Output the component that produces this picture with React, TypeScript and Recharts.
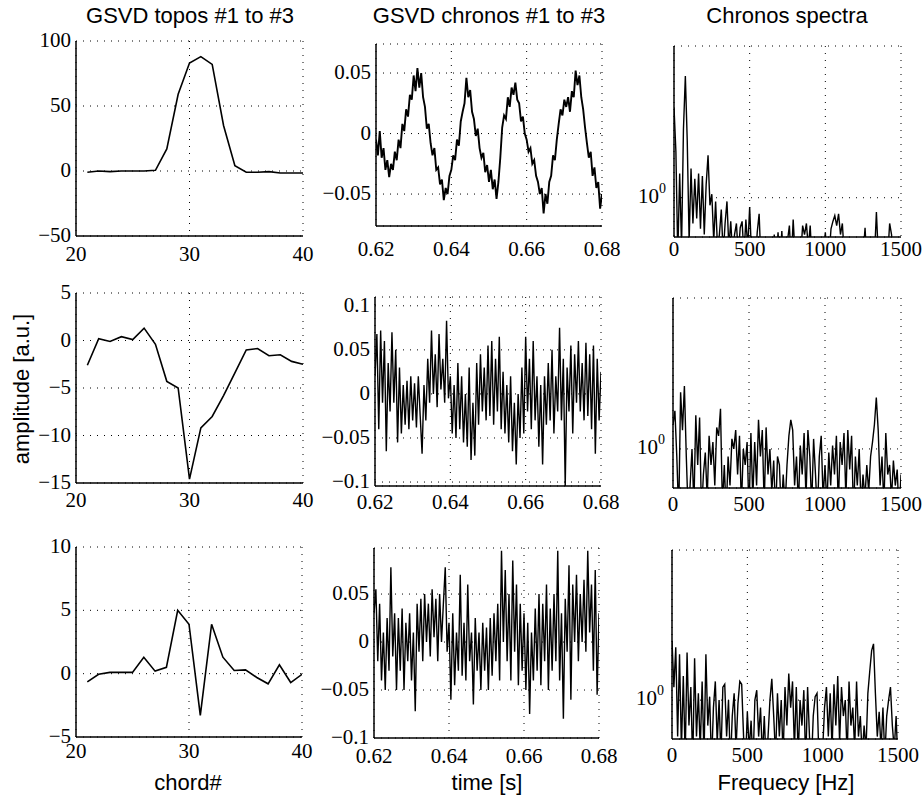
import React from "react";
import { LineChart, Line, XAxis, YAxis, CartesianGrid } from "recharts";

// chord numbers for the topos panels
const chords = [21, 22, 23, 24, 25, 26, 27, 28, 29, 30, 31, 32, 33, 34, 35, 36, 37, 38, 39, 40];

const topos1 = [-1, 0, -0.5, 0, 0, 0, 0.5, 17, 59, 83, 88, 82, 35, 4, -1, -1, -0.5, -1.5, -1.5, -1.5];
const topos2 = [-2.6, 0.2, -0.1, 0.4, 0.1, 1.3, -0.4, -4.3, -5.0, -14.6, -9.2, -8.0, -5.8, -3.4, -1.0, -0.85, -1.6, -1.5, -2.2, -2.5];
const topos3 = [-0.65, -0.05, 0.1, 0.1, 0.1, 1.3, 0.2, 0.5, 5.0, 3.9, -3.3, 3.9, 1.3, 0.25, 0.3, -0.3, -0.8, 0.7, -0.7, -0.05];

// chronos, sampled evenly from 0.62 s to 0.68 s
const T_START = 0.62;
const T_END = 0.68;

const chronos1 = [
  -0.005, -0.018, 0.002, -0.02, -0.012, -0.03, -0.022, -0.036, -0.025, -0.03,
  -0.015, -0.022, -0.005, -0.012, 0.008, 0.002, 0.02, 0.014, 0.032, 0.028,
  0.048, 0.035, 0.054, 0.038, 0.05, 0.03, 0.022, 0.004, 0.008, -0.008,
  -0.018, -0.012, -0.03, -0.028, -0.042, -0.038, -0.055, -0.045, -0.05, -0.035,
  -0.03, -0.018, -0.022, -0.005, -0.01, 0.01, 0.018, 0.025, 0.046, 0.03,
  0.036, 0.018, 0.012, -0.002, 0.004, -0.012, -0.02, -0.016, -0.032, -0.026,
  -0.04, -0.03, -0.046, -0.038, -0.054, -0.04, -0.02, 0.005, 0.015, 0.012,
  0.03, 0.022, 0.038, 0.032, 0.042, 0.028, 0.025, 0.01, 0.014, 0.0,
  -0.005, -0.015, -0.012, -0.025, -0.022, -0.035, -0.04, -0.05, -0.045, -0.066,
  -0.05, -0.058, -0.04, -0.035, -0.018, -0.022, -0.005, 0.008, 0.02, 0.015,
  0.028, 0.022, 0.03, 0.018, 0.035, 0.03, 0.052, 0.04, 0.048, 0.03,
  0.02, 0.005, -0.008, -0.02, -0.015, -0.035, -0.028, -0.045, -0.04, -0.062,
  -0.05,
];

const chronos2 = [
  0.02, 0.068, -0.04, 0.072, -0.01, 0.06, -0.065, 0.035, -0.02, 0.07,
  -0.01, 0.05, -0.055, 0.03, -0.045, 0.01, -0.035, 0.015, -0.04, 0.02,
  -0.03, 0.012, -0.038, 0.02, -0.025, -0.068, 0.01, -0.03, 0.04, -0.01,
  0.072, 0.0, 0.045, -0.015, 0.068, 0.005, 0.04, -0.01, 0.083, -0.005,
  0.02, -0.045, 0.01, -0.05, 0.035, -0.04, 0.02, -0.055, 0.0, -0.06,
  0.03, -0.075, -0.01, -0.07, 0.035, -0.035, 0.045, -0.02, 0.03, -0.03,
  0.055, -0.025, 0.06, -0.035, 0.04, -0.02, 0.065, -0.04, 0.025, -0.045,
  0.01, -0.055, 0.02, -0.065, -0.01, -0.08, 0.0, -0.05, 0.03, -0.045,
  0.065, -0.02, 0.04, -0.04, 0.06, -0.03, 0.02, -0.06, 0.01, -0.08,
  0.02, -0.035, 0.035, -0.03, 0.05, -0.045, 0.02, -0.02, 0.075, -0.03,
  0.04, -0.105, 0.03, -0.02, 0.055, -0.045, 0.045, -0.01, 0.06, -0.02,
  0.035, -0.03, 0.058, -0.025, 0.045, -0.04, 0.055, -0.068, 0.04, -0.03,
  0.025,
];

const chronos3 = [
  0.03, 0.055, -0.02, 0.04, -0.04, 0.01, -0.05, 0.025, -0.03, 0.078,
  -0.015, 0.03, -0.05, 0.025, -0.03, 0.035, -0.05, 0.02, -0.02, 0.03,
  -0.04, 0.01, -0.072, 0.04, -0.01, 0.045, -0.02, 0.05, 0.0, 0.04,
  -0.015, 0.055, 0.005, 0.045, -0.02, 0.05, 0.0, 0.04, 0.078, -0.01,
  0.02, -0.06, 0.03, -0.045, 0.01, -0.03, 0.07, -0.035, 0.02, -0.04,
  0.06, -0.02, 0.01, -0.065, 0.025, -0.03, 0.01, -0.05, 0.02, -0.03,
  0.015, -0.05, 0.025, -0.035, 0.03, -0.02, 0.04, -0.04, 0.095, 0.0,
  0.075, -0.02, 0.05, -0.04, 0.085, -0.01, 0.06, -0.045, 0.04, -0.03,
  0.03, -0.05, 0.02, -0.075, 0.01, -0.04, 0.035, -0.03, 0.05, -0.045,
  0.04, -0.02, 0.06, -0.05, 0.035, -0.03, 0.05, -0.02, 0.095, -0.04,
  0.03, -0.08, 0.045, -0.01, 0.08, -0.06, 0.06, 0.0, 0.07, -0.02,
  0.05, 0.0, 0.065, -0.01, 0.095, 0.01, 0.06, -0.03, 0.075, -0.055,
  0.03,
];

// spectra, evenly spaced bins from 0 to 1500 Hz
const F_MAX = 1500;

const spectra1 = [
  3.5, 1.9, 0.45, 1.4, 0.5, 2.6, 5.4, 2.2, 0.55, 1.5,
  0.7, 1.3, 0.75, 1.4, 0.65, 1.35, 0.6, 1.2, 1.8, 0.9,
  1.05, 0.55, 0.95, 0.5, 0.6, 0.85, 0.45, 0.7, 0.95, 0.5,
  0.72, 0.45, 0.6, 0.7, 0.45, 0.66, 0.72, 0.45, 0.74, 0.5,
  0.88, 0.45, 0.55, 0.4, 0.62, 0.8, 0.4, 0.45, 0.4, 0.4,
  0.4, 0.45, 0.4, 0.6, 0.4, 0.62, 0.4, 0.63, 0.4, 0.4,
  0.55, 0.68, 0.4, 0.74, 0.45, 0.4, 0.4, 0.45, 0.68, 0.6,
  0.7, 0.5, 0.68, 0.4, 0.4, 0.4, 0.4, 0.4, 0.4, 0.45,
  0.62, 0.4, 0.45, 0.65, 0.72, 0.78, 0.68, 0.8, 0.6, 0.7,
  0.45, 0.4, 0.4, 0.4, 0.4, 0.58, 0.4, 0.4, 0.4, 0.4,
  0.45, 0.66, 0.4, 0.4, 0.4, 0.4, 0.45, 0.82, 0.45, 0.4,
  0.4, 0.4, 0.4, 0.45, 0.7, 0.6, 0.4, 0.4, 0.4, 0.4,
  0.4,
];

const spectra2 = [
  1.4, 1.7, 0.9, 0.4, 2.2, 1.3, 2.4, 0.9, 0.4, 0.6,
  1.0, 0.45, 1.6, 0.8, 1.55, 0.4, 0.7, 0.95, 0.5, 1.2,
  0.8, 1.1, 0.6, 1.35, 1.2, 1.75, 0.45, 0.8, 0.4, 0.9,
  0.6, 1.15, 1.0, 1.3, 0.7, 1.2, 0.45, 1.0, 0.8, 1.1,
  0.4, 1.25, 0.5, 1.1, 0.6, 1.5, 0.9, 1.3, 0.45, 1.35,
  0.7, 1.0, 0.55, 0.85, 0.4, 0.9, 0.8, 0.4, 0.7, 0.45,
  0.8, 1.2, 1.5, 1.3, 0.6, 0.9, 0.45, 1.05, 0.7, 1.25,
  0.5, 1.3, 0.9, 0.45, 1.15, 0.7, 0.4, 0.9, 1.2, 0.5,
  0.8, 0.45, 0.95, 0.6, 1.05, 0.7, 1.2, 0.45, 1.1, 0.8,
  1.25, 0.5, 1.3, 0.75, 1.2, 0.4, 0.9, 0.6, 1.0, 0.45,
  0.7, 0.5, 0.8, 0.55, 0.9, 1.1, 1.4, 2.05, 1.3, 0.6,
  0.9, 0.45, 1.25, 0.7, 0.8, 0.5, 0.85, 0.6, 0.75, 0.4,
  0.7,
];

const spectra3 = [
  2.3, 1.2, 2.1, 0.6, 1.9, 0.5, 1.4, 0.45, 1.95, 0.7,
  1.2, 0.4, 1.8, 0.6, 1.1, 0.5, 1.3, 0.45, 1.9, 0.7,
  1.05, 0.4, 0.9, 1.3, 0.55, 1.0, 0.45, 1.2, 1.25, 0.6,
  1.0, 0.4, 0.8, 1.1, 0.5, 0.95, 1.3, 1.25, 0.6, 0.4,
  0.85, 0.5, 0.75, 0.4, 1.0, 1.15, 0.6, 0.9, 0.45, 0.8,
  0.4, 0.6, 1.0, 1.35, 0.8, 0.45, 1.1, 0.6, 1.0, 0.45,
  1.2, 0.7, 1.45, 0.9, 1.3, 0.5, 1.2, 0.45, 1.0, 0.7,
  1.15, 0.4, 1.2, 0.6, 0.4, 0.8, 1.05, 1.1, 0.45, 0.4,
  0.5, 0.9, 1.2, 0.6, 1.1, 0.5, 1.25, 0.7, 1.4, 0.55,
  1.2, 0.8, 1.0, 0.45, 1.3, 0.7, 0.9, 0.5, 1.3, 0.6,
  0.8, 0.45, 0.7, 0.5, 1.1, 1.5, 2.0, 2.2, 1.1, 0.6,
  0.85, 0.5, 0.9, 0.45, 0.8, 1.0, 1.2, 0.7, 0.5, 0.8,
  0.4,
];

const serif = "'Liberation Serif', 'Times New Roman', serif";
const sans = "'Liberation Sans', Arial, Helvetica, sans-serif";

const fmt = (v: number) => String(v).replace("-", "\u2212");

// evenly spaced sample axis (time / frequency bins)
const sampleAxis = (n: number, a: number, b: number) =>
  Array.from({ length: n }, (_, i) => a + ((b - a) * i) / (n - 1));

const rows = (xs: number[], ys: number[]) => ys.map((v, i) => ({ x: xs[i], y: v }));

type Box = { x: number; y: number; w: number; h: number };

const ML = 80;
const MT = 26;
const MR = 40;
const MB = 40;

function Panel({
  box,
  data,
  xDomain,
  xTicks,
  yDomain,
  yTicks,
  log,
  labelY,
  sw,
}: {
  box: Box;
  data: { x: number; y: number }[];
  xDomain: [number, number];
  xTicks: number[];
  yDomain: [number, number];
  yTicks: number[];
  log?: boolean;
  labelY: number;
  sw: number;
}) {
  const xDy = labelY - (box.y + box.h) + 7;
  const frame = { stroke: "#000", strokeWidth: 1.5 };
  return (
    <div style={{ position: "absolute", left: box.x - ML, top: box.y - MT }}>
      <LineChart
        width={box.w + ML + MR}
        height={box.h + MT + MB}
        data={data}
        margin={{ top: MT, right: MR, bottom: 0, left: 0 }}
      >
        <CartesianGrid stroke="#000" strokeWidth={1} strokeDasharray="1 6" />
        <XAxis
          type="number"
          dataKey="x"
          domain={xDomain}
          ticks={xTicks}
          interval={0}
          allowDataOverflow
          height={MB}
          tickLine={false}
          tickSize={0}
          tickMargin={0}
          axisLine={frame}
          tick={(p: any) => (
            <text
              x={p.x}
              y={p.y + xDy}
              textAnchor="middle"
              fontFamily={serif}
              fontSize={21}
              fill="#000"
            >
              {fmt(p.payload.value)}
            </text>
          )}
        />
        <XAxis
          xAxisId="top"
          orientation="top"
          type="number"
          domain={[0, 1]}
          height={0}
          tick={false}
          tickLine={false}
          axisLine={frame}
        />
        <YAxis
          type="number"
          scale={log ? "log" : "auto"}
          domain={yDomain}
          ticks={yTicks}
          interval={0}
          allowDataOverflow
          width={ML}
          tickLine={false}
          tickSize={0}
          tickMargin={0}
          axisLine={frame}
          tick={(p: any) =>
            log ? (
              <text x={p.x - 8} y={p.y + 5} textAnchor="end" fontFamily={serif} fontSize={21} fill="#000">
                <tspan>10</tspan>
                <tspan dy={-10} fontSize={14}>
                  0
                </tspan>
              </text>
            ) : (
              <text x={p.x - 5} y={p.y + 6} textAnchor="end" fontFamily={serif} fontSize={21} fill="#000">
                {fmt(p.payload.value)}
              </text>
            )
          }
        />
        <YAxis
          yAxisId="right"
          orientation="right"
          type="number"
          domain={[0, 1]}
          width={0}
          tick={false}
          tickLine={false}
          axisLine={frame}
        />
        <Line
          type="linear"
          dataKey="y"
          stroke="#000"
          strokeWidth={sw}
          dot={false}
          activeDot={false}
          isAnimationActive={false}
        />
      </LineChart>
    </div>
  );
}

const CHORD_DOMAIN: [number, number] = [20, 40];
const CHORD_TICKS = [20, 30, 40];
const TIME_DOMAIN: [number, number] = [T_START, T_END];
const TIME_TICKS = [0.62, 0.64, 0.66, 0.68];
const FREQ_DOMAIN: [number, number] = [0, F_MAX];
const FREQ_TICKS = [0, 500, 1000, 1500];
const SPEC_DOMAIN: [number, number] = [0.58, 8.2];

export default function App() {
  const t1 = sampleAxis(chronos1.length, T_START, T_END);
  const t2 = sampleAxis(chronos2.length, T_START, T_END);
  const t3 = sampleAxis(chronos3.length, T_START, T_END);
  const f1 = sampleAxis(spectra1.length, 0, F_MAX);
  const f2 = sampleAxis(spectra2.length, 0, F_MAX);
  const f3 = sampleAxis(spectra3.length, 0, F_MAX);

  return (
    <div
      style={{
        position: "absolute",
        left: 0,
        top: 0,
        width: 924,
        height: 801,
        background: "#fff",
        overflow: "hidden",
      }}
    >
      {/* column 1: topos */}
      <Panel box={{ x: 76, y: 41, w: 227, h: 195 }} data={rows(chords, topos1)} xDomain={CHORD_DOMAIN} xTicks={CHORD_TICKS} yDomain={[-50, 100]} yTicks={[-50, 0, 50, 100]} labelY={254} sw={1.6} />
      <Panel box={{ x: 76, y: 293, w: 227, h: 190 }} data={rows(chords, topos2)} xDomain={CHORD_DOMAIN} xTicks={CHORD_TICKS} yDomain={[-15, 5]} yTicks={[-15, -10, -5, 0, 5]} labelY={500} sw={1.6} />
      <Panel box={{ x: 76, y: 547, w: 226, h: 190 }} data={rows(chords, topos3)} xDomain={CHORD_DOMAIN} xTicks={CHORD_TICKS} yDomain={[-5, 10]} yTicks={[-5, 0, 5, 10]} labelY={751} sw={1.6} />

      {/* column 2: chronos */}
      <Panel box={{ x: 376, y: 44, w: 226, h: 182 }} data={rows(t1, chronos1)} xDomain={TIME_DOMAIN} xTicks={TIME_TICKS} yDomain={[-0.0764, 0.074]} yTicks={[-0.05, 0, 0.05]} labelY={249} sw={1.9} />
      <Panel box={{ x: 375, y: 297, w: 226, h: 189 }} data={rows(t2, chronos2)} xDomain={TIME_DOMAIN} xTicks={TIME_TICKS} yDomain={[-0.1045, 0.11]} yTicks={[-0.1, -0.05, 0, 0.05, 0.1]} labelY={502} sw={1.4} />
      <Panel box={{ x: 374, y: 548, w: 225, h: 190 }} data={rows(t3, chronos3)} xDomain={TIME_DOMAIN} xTicks={TIME_TICKS} yDomain={[-0.1, 0.098]} yTicks={[-0.1, -0.05, 0, 0.05]} labelY={756} sw={1.4} />

      {/* column 3: spectra */}
      <Panel box={{ x: 674, y: 46, w: 227, h: 191 }} data={rows(f1, spectra1)} xDomain={FREQ_DOMAIN} xTicks={FREQ_TICKS} yDomain={SPEC_DOMAIN} yTicks={[1]} log labelY={249} sw={1.4} />
      <Panel box={{ x: 673, y: 298, w: 228, h: 190 }} data={rows(f2, spectra2)} xDomain={FREQ_DOMAIN} xTicks={FREQ_TICKS} yDomain={SPEC_DOMAIN} yTicks={[1]} log labelY={504} sw={1.4} />
      <Panel box={{ x: 672, y: 550, w: 226, h: 189 }} data={rows(f3, spectra3)} xDomain={FREQ_DOMAIN} xTicks={FREQ_TICKS} yDomain={SPEC_DOMAIN} yTicks={[1]} log labelY={755} sw={1.4} />

      <svg
        width={924}
        height={801}
        style={{ position: "absolute", left: 0, top: 0, pointerEvents: "none" }}
      >
        <g fontFamily={sans} fontSize={22} fill="#000" textAnchor="middle">
          <text x={190} y={23}>GSVD topos #1 to #3</text>
          <text x={489} y={23}>GSVD chronos #1 to #3</text>
          <text x={787} y={23}>Chronos spectra</text>
          <text x={188} y={790}>chord#</text>
          <text x={487} y={790}>time [s]</text>
          <text x={786} y={790}>Frequecy [Hz]</text>
          <text transform="translate(29 389) rotate(-90)">amplitude [a.u.]</text>
        </g>
      </svg>
    </div>
  );
}
